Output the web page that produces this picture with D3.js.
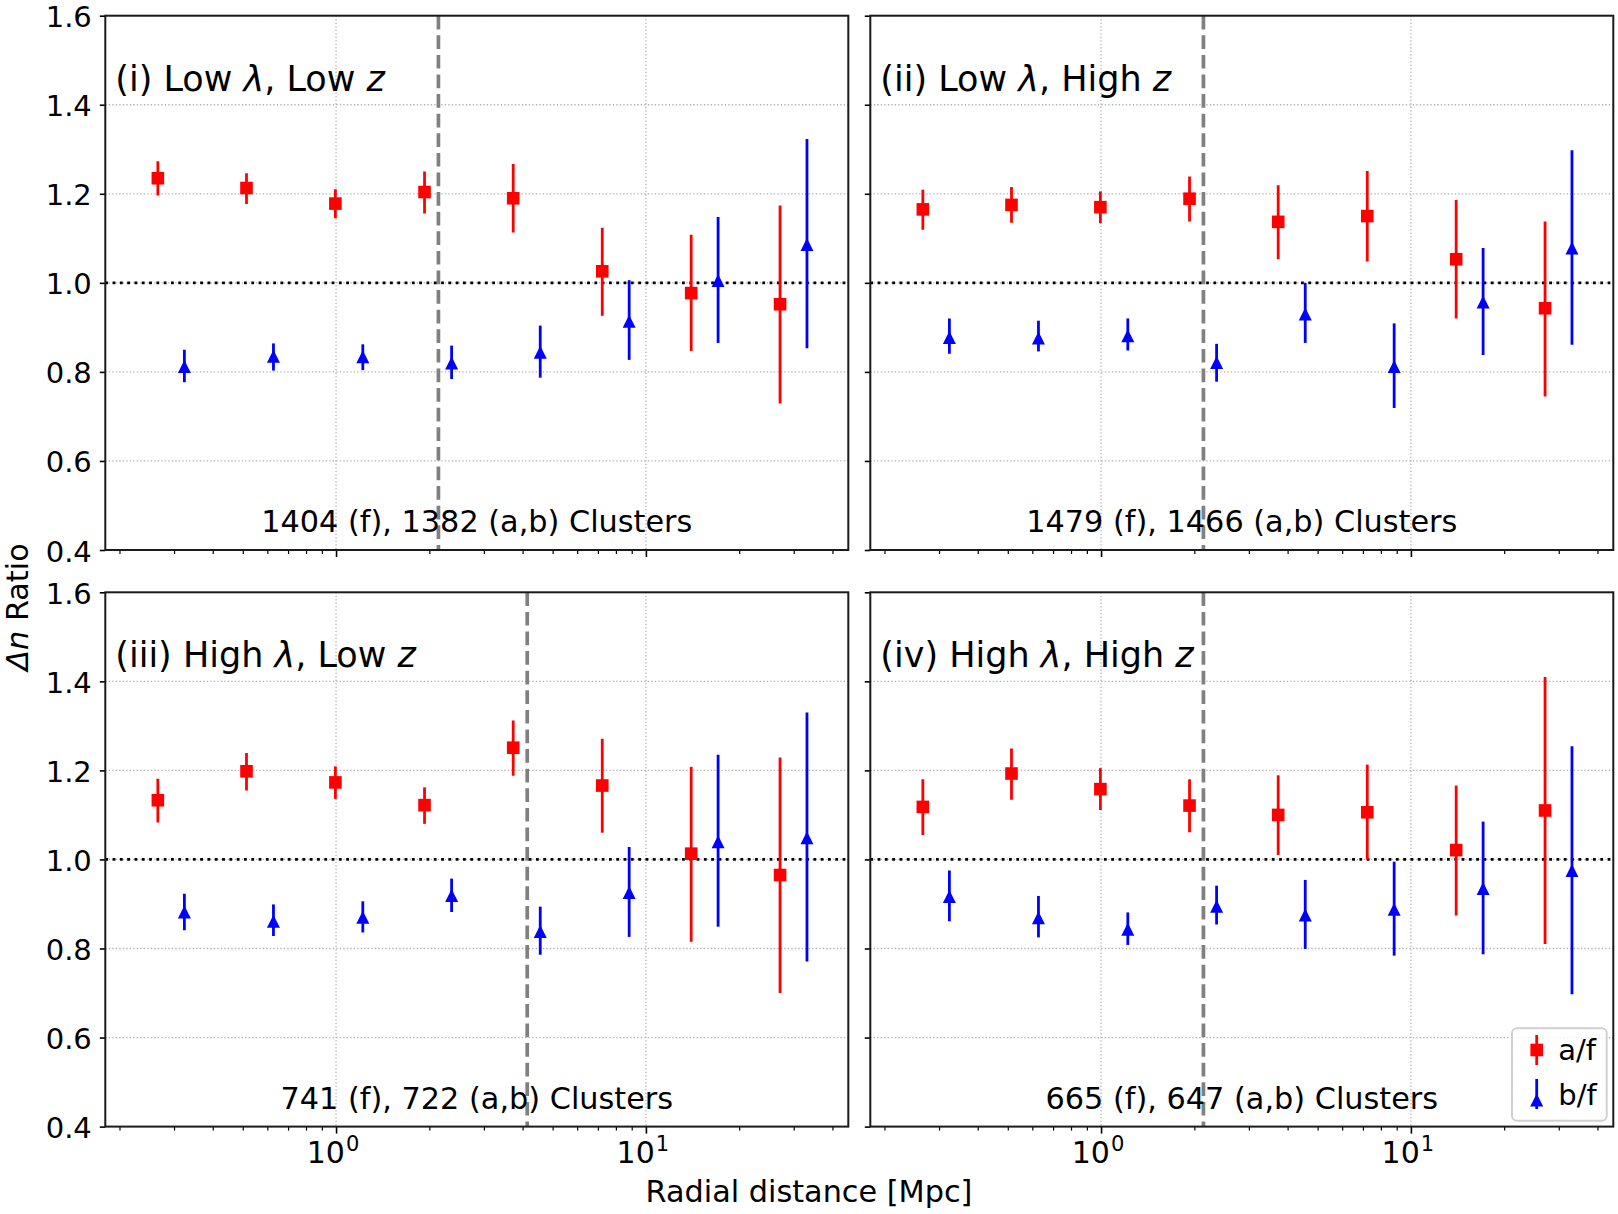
<!DOCTYPE html>
<html>
<head>
<meta charset="utf-8">
<script src="https://cdn.jsdelivr.net/npm/d3@7"></script>
<style>
  html, body { margin: 0; padding: 0; background: #fff; }
  svg text { font-family: "DejaVu Sans", sans-serif; fill: #000; }
</style>
</head>
<body>
<svg id="chart" width="1618" height="1214"></svg>
<script>
// ---------------- DATA ----------------
const radiusA = [0.266, 0.514, 0.995, 1.93, 3.73, 7.23, 14.0, 27.1];   // a/f bin centres [Mpc]
const radiusB = [0.324, 0.628, 1.22, 2.36, 4.56, 8.83, 17.1, 33.1];    // b/f bin centres [Mpc]

const panelTitles = [
  ["(i) Low ", "λ", ", Low ", "z"],
  ["(ii) Low ", "λ", ", High ", "z"],
  ["(iii) High ", "λ", ", Low ", "z"],
  ["(iv) High ", "λ", ", High ", "z"]
];
const clusterLabels = [
  "1404 (f), 1382 (a,b) Clusters",
  "1479 (f), 1466 (a,b) Clusters",
  "741 (f), 722 (a,b) Clusters",
  "665 (f), 647 (a,b) Clusters"
];
const dividerRadius = [2.14, 2.14, 4.14, 2.14];

// a/f ratio: value, lower, upper
const afValue = [
  [1.235, 1.213, 1.178, 1.204, 1.190, 1.026, 0.977, 0.952],
  [1.165, 1.175, 1.170, 1.189, 1.137, 1.150, 1.053, 0.943],
  [1.133, 1.198, 1.173, 1.122, 1.251, 1.166, 1.013, 0.965],
  [1.118, 1.193, 1.158, 1.121, 1.100, 1.106, 1.021, 1.110]
];
const afLower = [
  [1.196, 1.177, 1.145, 1.156, 1.113, 0.926, 0.847, 0.729],
  [1.119, 1.135, 1.134, 1.138, 1.053, 1.048, 0.920, 0.745],
  [1.083, 1.155, 1.136, 1.080, 1.188, 1.060, 0.815, 0.700],
  [1.055, 1.134, 1.111, 1.061, 1.010, 1.000, 0.874, 0.810]
];
const afUpper = [
  [1.273, 1.246, 1.210, 1.250, 1.267, 1.124, 1.108, 1.174],
  [1.209, 1.215, 1.205, 1.239, 1.219, 1.251, 1.186, 1.138],
  [1.181, 1.239, 1.209, 1.162, 1.312, 1.271, 1.208, 1.229],
  [1.180, 1.249, 1.205, 1.180, 1.189, 1.213, 1.166, 1.410]
];
// b/f ratio: value, lower, upper
const bfValue = [
  [0.812, 0.835, 0.834, 0.820, 0.844, 0.914, 1.005, 1.086],
  [0.877, 0.876, 0.881, 0.821, 0.930, 0.812, 0.957, 1.078],
  [0.882, 0.861, 0.870, 0.919, 0.838, 0.926, 1.040, 1.049],
  [0.917, 0.869, 0.843, 0.895, 0.875, 0.888, 0.935, 0.975]
];
const bfLower = [
  [0.777, 0.803, 0.804, 0.784, 0.787, 0.827, 0.865, 0.853],
  [0.841, 0.846, 0.848, 0.778, 0.865, 0.719, 0.838, 0.861],
  [0.841, 0.828, 0.836, 0.882, 0.786, 0.826, 0.849, 0.771],
  [0.861, 0.825, 0.808, 0.854, 0.799, 0.784, 0.787, 0.697]
];
const bfUpper = [
  [0.850, 0.864, 0.862, 0.859, 0.904, 1.006, 1.148, 1.323],
  [0.920, 0.915, 0.920, 0.863, 1.000, 0.909, 1.078, 1.298],
  [0.923, 0.899, 0.906, 0.957, 0.894, 1.028, 1.235, 1.330],
  [0.975, 0.918, 0.881, 0.941, 0.954, 0.995, 1.085, 1.254]
];

const yTicks = [0.4, 0.6, 0.8, 1.0, 1.2, 1.4, 1.6];
const xMajorTicks = [1, 10];
const xMajorExp = ["0", "1"];
const xMinorTicks = [0.2, 0.3, 0.4, 0.5, 0.6, 0.7, 0.8, 0.9, 2, 3, 4, 5, 6, 7, 8, 9, 20, 30, 40];
const xLabel = "Radial distance [Mpc]";
const legendLabels = ["a/f", "b/f"];

// ---------------- LAYOUT ----------------
const svg = d3.select("#chart");
const colX = [105.3, 870.3];
const rowY = [15.7, 592.3];
const PW = 743, PH = 534.3;
const tickFont = 29, textFont = 30.3, titleFont = 35, labelFont = 30.3;

svg.append("rect").attr("width", 1618).attr("height", 1214).attr("fill", "#fff");

function triPath(s) {
  // matplotlib '^' marker, centred on data point
  return `M0,${-s / 2}L${s / 2},${s / 2}L${-s / 2},${s / 2}Z`;
}

for (let p = 0; p < 4; p++) {
  const col = p % 2, row = Math.floor(p / 2);
  const x0 = colX[col], y0 = rowY[row];
  const x = d3.scaleLog().domain([0.18, 45]).range([x0, x0 + PW]);
  const y = d3.scaleLinear().domain([0.4, 1.6]).range([y0 + PH, y0]);

  const g = svg.append("g");
  const clipId = "clip" + p;
  svg.append("clipPath").attr("id", clipId)
    .append("rect").attr("x", x0).attr("y", y0).attr("width", PW).attr("height", PH);

  // grid
  const grid = g.append("g").attr("clip-path", `url(#${clipId})`);
  grid.selectAll(".gy").data(yTicks).join("line")
    .attr("x1", x0).attr("x2", x0 + PW)
    .attr("y1", d => y(d)).attr("y2", d => y(d))
    .attr("stroke", "#b0b0b0").attr("stroke-width", 1.3).attr("stroke-dasharray", "1.3,2.2");
  grid.selectAll(".gx").data(xMajorTicks).join("line")
    .attr("x1", d => x(d)).attr("x2", d => x(d))
    .attr("y1", y0).attr("y2", y0 + PH)
    .attr("stroke", "#b0b0b0").attr("stroke-width", 1.3).attr("stroke-dasharray", "1.3,2.2");

  // reference lines
  grid.append("line")
    .attr("x1", x(dividerRadius[p])).attr("x2", x(dividerRadius[p]))
    .attr("y1", y0).attr("y2", y0 + PH)
    .attr("stroke", "#808080").attr("stroke-width", 3.7).attr("stroke-dasharray", "13.7,5.9");
  grid.append("line")
    .attr("x1", x0).attr("x2", x0 + PW)
    .attr("y1", y(1.0)).attr("y2", y(1.0))
    .attr("stroke", "#000").attr("stroke-width", 2.8).attr("stroke-dasharray", "2.8,4.5");

  const data = g.append("g").attr("clip-path", `url(#${clipId})`);
  const af = radiusA.map((r, i) => ({ r, v: afValue[p][i], lo: afLower[p][i], hi: afUpper[p][i] }));
  const bf = radiusB.map((r, i) => ({ r, v: bfValue[p][i], lo: bfLower[p][i], hi: bfUpper[p][i] }));

  data.selectAll(".ea").data(af).join("line")
    .attr("x1", d => x(d.r)).attr("x2", d => x(d.r))
    .attr("y1", d => y(d.lo)).attr("y2", d => y(d.hi))
    .attr("stroke", "#ff0000").attr("stroke-width", 2.8);
  data.selectAll(".ma").data(af).join("rect")
    .attr("x", d => x(d.r) - 6.3).attr("y", d => y(d.v) - 6.3)
    .attr("width", 12.6).attr("height", 12.6)
    .attr("fill", "#ff0000");

  data.selectAll(".eb").data(bf).join("line")
    .attr("x1", d => x(d.r)).attr("x2", d => x(d.r))
    .attr("y1", d => y(d.lo)).attr("y2", d => y(d.hi))
    .attr("stroke", "#0000ff").attr("stroke-width", 2.8);
  data.selectAll(".mb").data(bf).join("path")
    .attr("d", triPath(13))
    .attr("transform", d => `translate(${x(d.r)},${y(d.v)})`)
    .attr("fill", "#0000ff");

  // y axis
  const ya = g.append("g").attr("transform", `translate(${x0},0)`)
    .call(d3.axisLeft(y).tickValues(yTicks).tickSize(5.5).tickPadding(8)
      .tickFormat(col === 0 ? d3.format(".1f") : () => ""));
  ya.select(".domain").remove();
  ya.selectAll("line").attr("stroke", "#000").attr("stroke-width", 1.6);
  ya.selectAll("text").attr("font-size", tickFont).attr("dy", "0.38em")
    .style("font-family", "'DejaVu Sans', sans-serif");

  // x axis (major + minor)
  const xa = g.append("g").attr("transform", `translate(0,${y0 + PH})`)
    .call(d3.axisBottom(x).tickValues(xMajorTicks).tickSize(7).tickFormat(() => ""));
  xa.select(".domain").remove();
  xa.selectAll("line").attr("stroke", "#000").attr("stroke-width", 1.6);
  const xm = g.append("g").attr("transform", `translate(0,${y0 + PH})`)
    .call(d3.axisBottom(x).tickValues(xMinorTicks).tickSize(4).tickFormat(() => ""));
  xm.select(".domain").remove();
  xm.selectAll("line").attr("stroke", "#000").attr("stroke-width", 1.2);

  if (row === 1) {
    xMajorTicks.forEach((t, i) => {
      const tx = g.append("text")
        .attr("x", x(t) - 3).attr("y", y0 + PH + 36)
        .attr("text-anchor", "middle").attr("font-size", 30);
      tx.append("tspan").text("10");
      tx.append("tspan").attr("font-size", 21).attr("dy", -12).attr("dx", 1).text(xMajorExp[i]);
    });
  }

  // frame
  g.append("rect").attr("x", x0).attr("y", y0).attr("width", PW).attr("height", PH)
    .attr("fill", "none").attr("stroke", "#1a1a1a").attr("stroke-width", 2);

  // title
  const tt = g.append("text").attr("x", x0 + 10).attr("y", y0 + 75).attr("font-size", titleFont);
  panelTitles[p].forEach((s, i) => {
    const ts = tt.append("tspan").text(s);
    if (i % 2 === 1) ts.attr("font-style", "italic");
  });

  // cluster count
  g.append("text").attr("x", x0 + PW / 2).attr("y", y0 + PH - 18)
    .attr("text-anchor", "middle").attr("font-size", textFont).text(clusterLabels[p]);

  // legend in panel iv
  if (p === 3) {
    const lg = g.append("g");
    lg.append("rect").attr("x", 1512).attr("y", 1028.3).attr("width", 94.7).attr("height", 92.4)
      .attr("rx", 5).attr("fill", "#fff").attr("fill-opacity", 0.8)
      .attr("stroke", "#d0d0d0").attr("stroke-width", 2);
    const lx = 1536.7;
    lg.append("line").attr("x1", lx).attr("x2", lx).attr("y1", 1035).attr("y2", 1065)
      .attr("stroke", "#ff0000").attr("stroke-width", 2.8);
    lg.append("rect").attr("x", lx - 6.3).attr("y", 1050 - 6.3).attr("width", 12.6).attr("height", 12.6)
      .attr("fill", "#ff0000");
    lg.append("text").attr("x", 1558.3).attr("y", 1060).attr("font-size", tickFont).text(legendLabels[0]);
    lg.append("line").attr("x1", lx).attr("x2", lx).attr("y1", 1079).attr("y2", 1109)
      .attr("stroke", "#0000ff").attr("stroke-width", 2.8);
    lg.append("path").attr("d", triPath(13)).attr("transform", `translate(${lx},1100)`)
      .attr("fill", "#0000ff");
    lg.append("text").attr("x", 1558.3).attr("y", 1105).attr("font-size", tickFont).text(legendLabels[1]);
  }
}

// shared axis labels
svg.append("text").attr("x", 809).attr("y", 1202).attr("text-anchor", "middle")
  .attr("font-size", labelFont).text(xLabel);

const yl = svg.append("text").attr("transform", "translate(28,607) rotate(-90)")
  .attr("text-anchor", "middle").attr("font-size", labelFont);
yl.append("tspan").attr("font-style", "italic").text("Δn");
yl.append("tspan").text(" Ratio");
</script>
</body>
</html>
